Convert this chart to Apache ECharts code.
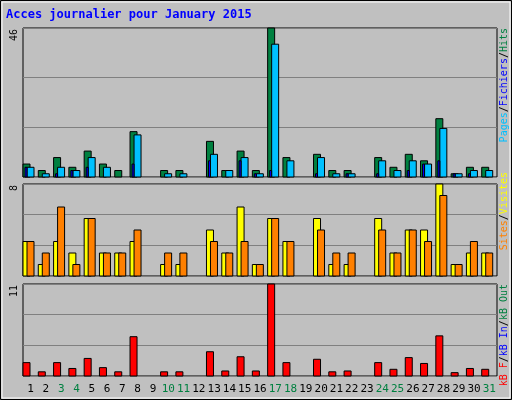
<!DOCTYPE html><html><head><meta charset="utf-8">
<script src="https://cdn.jsdelivr.net/npm/echarts@6/dist/echarts.min.js"></script>
<style>html,body{margin:0;padding:0;background:#fff}#c{width:512px;height:400px}</style></head><body><div id="c"></div>
<script>
const days = Array.from({length:31},(_,i)=>String(i+1));
const weekend = ['3','4','10','11','17','18','24','25','31'];
const hits  = [4,2,6,3,8,4,2,14,0,2,2,0,11,2,8,2,46,6,0,7,2,2,0,6,3,7,5,18,1,3,3];
const files = [3,1,3,2,6,3,0,13,0,1,1,0,7,2,6,1,41,5,0,6,1,1,0,5,2,5,4,15,1,2,2];
const pages = [3,0,1,2,3,0,0,4,0,0,0,0,5,0,5,1,2,0,0,1,0,1,0,1,0,2,4,5,1,1,0];
const visits= [3,1,3,2,5,2,2,3,0,1,1,0,4,2,6,1,5,3,0,5,1,1,0,5,2,4,4,8,1,2,2];
const sites = [3,2,6,1,5,2,2,4,0,2,2,0,3,2,3,1,5,3,0,4,2,2,0,4,2,4,3,7,1,3,2];
const kbytes= [1.6,0.5,1.6,0.9,2.1,1.0,0.5,4.7,0,0.5,0.5,0,2.9,0.6,2.3,0.6,11,1.6,0,2.0,0.5,0.6,0,1.6,0.8,2.2,1.5,4.8,0.4,0.9,0.8];
const maxes = [46,8,11];

function barSeries(data, grid, color, off, w){
  return {type:'custom', xAxisIndex:grid, yAxisIndex:grid, data:data.map((v,i)=>[i,v]),
    renderItem:(p,api)=>{
      const v=api.value(1); if(!v) return;
      const top=api.coord([api.value(0),v]), bot=api.coord([api.value(0),0]);
      const bw=api.size([1,0])[0];
      const x=top[0]-bw/2+off;
      return {type:'rect',shape:{x:x,y:top[1],width:w,height:bot[1]-top[1]},
        style:{fill:color,stroke:'#000',lineWidth:1}};
    }};
}
const grids=[{top:28,height:149},{top:184,height:92},{top:284,height:92}].map(g=>({left:23,right:15,top:g.top,height:g.height,show:true,borderColor:'#000',borderWidth:1,backgroundColor:'#C0C0C0'}));
const xAxes=grids.map((g,i)=>({type:'category',gridIndex:i,data:days,axisTick:{show:false},axisLine:{show:false},
  axisLabel:{show:i===2,interval:0,margin:8,fontFamily:'DejaVu Sans Mono',fontSize:11,
    color:(v)=>weekend.includes(v)?'#008040':'#000'}}));
const yAxes=maxes.map((m,i)=>({type:'value',gridIndex:i,min:0,max:m,interval:m/3,axisLabel:{show:false},axisLine:{show:false},axisTick:{show:false},splitLine:{lineStyle:{color:'#808080',width:1}}}));
const mono='DejaVu Sans Mono';
const rt=(x,y,rich,parts)=>({type:'text',x:x,y:y,rotation:Math.PI/2,style:{text:parts,rich:rich,align:'right',verticalAlign:'middle',font:'10px '+mono}});
const st=c=>({fill:c,fontFamily:mono,fontSize:10});
const rich={g:st('#008040'),b:st('#0000FF'),c:st('#00C0FF'),y:st('#FFFF00'),o:st('#FF8000'),r:st('#FF0000'),k:st('#000')};
const chart=echarts.init(document.getElementById('c'));
chart.setOption({backgroundColor:'#C0C0C0',animation:false,grid:grids,xAxis:xAxes,yAxis:yAxes,
 series:[barSeries(hits,0,'#008040',0,7),barSeries(files,0,'#00C0FF',4,7),barSeries(pages,0,'#0000FF',2,2),
   barSeries(visits,1,'#FFFF00',0,7),barSeries(sites,1,'#FF8000',4,7),barSeries(kbytes,2,'#FF0000',0,7)],
 graphic:[
  {type:'rect',shape:{x:0.5,y:0.5,width:511,height:399},style:{fill:null,stroke:'#000',lineWidth:1}},
  {type:'rect',shape:{x:2,y:2,width:508,height:396},style:{fill:null,stroke:'#fff',lineWidth:1}},
  {type:'text',x:6,y:9,style:{text:'Acces journalier pour January 2015',font:'bold 12px '+mono,fill:'#0000FF'}},
  rt(14,29,rich,'{k|46}'),rt(14,185,rich,'{k|8}'),rt(14,285,rich,'{k|11}'),
  rt(504,28,rich,'{c|Pages}{k|/}{b|Fichiers}{k|/}{g|Hits}'),
  rt(504,172,rich,'{o|Sites}{k|/}{y|Visites}'),
  rt(504,284,rich,'{r|kB F}{k|/}{b|kB In}{k|/}{g|kB Out}')
 ]});
</script></body></html>
